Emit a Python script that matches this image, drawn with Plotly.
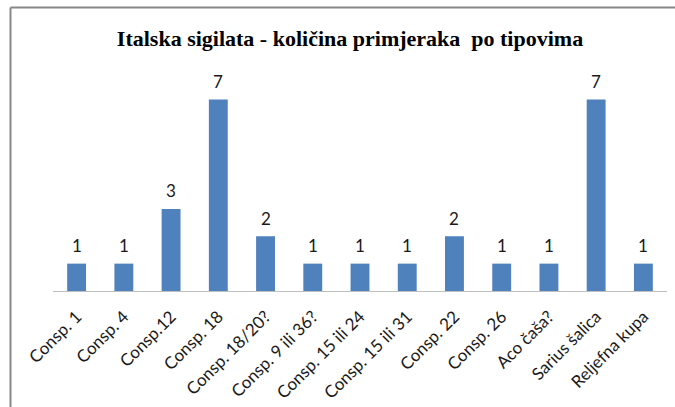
import plotly.graph_objects as go

categories = ["Consp. 1", "Consp. 4", "Consp.12", "Consp. 18", "Consp. 18/20?",
              "Consp. 9 ili 36?", "Consp. 15 ili 24", "Consp. 15 ili 31", "Consp. 22",
              "Consp. 26", "Aco čaša?", "Sarius šalica", "Reljefna kupa"]
values = [1, 1, 3, 7, 2, 1, 1, 1, 2, 1, 1, 7, 1]
title_text = "Italska sigilata - količina primjeraka  po tipovima"

W, H = 675, 407
L, R, T, B = 53, 8, 72, 116

fig = go.Figure(go.Bar(
    x=categories, y=values,
    marker=dict(color="#4F81BD", line=dict(width=0)),
    hoverinfo="x+y",
))

for c, v in zip(categories, values):
    fig.add_annotation(x=c, y=v, text=str(v), showarrow=False, yshift=18,
                       font=dict(family="Lato", size=17, color="#1a1a1a"))

pw = W - L - R
ph = H - T - B
def px_x(p):
    return (p - L) / pw
def px_y(p):
    return (H - B - p) / ph

fig.add_shape(type="line", xref="paper", yref="paper",
              x0=px_x(10.5), x1=px_x(10.5), y0=px_y(7.5), y1=px_y(420),
              line=dict(color="#878787", width=2))
fig.add_shape(type="line", xref="paper", yref="paper",
              x0=px_x(10.5), x1=px_x(680), y0=px_y(7.5), y1=px_y(7.5),
              line=dict(color="#878787", width=2))

fig.update_layout(
    width=W, height=H,
    margin=dict(l=L, r=R, t=T, b=B, autoexpand=False),
    paper_bgcolor="white", plot_bgcolor="white",
    bargap=0.6,
    showlegend=False,
    title=dict(text="<b>" + title_text + "</b>", xref="container", yref="container",
               x=350 / W, y=1 - 38 / H, xanchor="center", yanchor="middle",
               font=dict(family="Times New Roman", size=22, color="#000000")),
    xaxis=dict(showline=True, linecolor="#BFBFBF", linewidth=1, tickangle=-45,
               ticks="", showgrid=False, zeroline=False, automargin=False,
               ticklabelstandoff=8,
               tickfont=dict(family="Lato", size=17, color="#1a1a1a")),
    yaxis=dict(range=[0, 8], visible=False, showgrid=False, zeroline=False, automargin=False),
)

fig.write_html("out.html", config={"displayModeBar": False},
               post_script="document.body.style.margin='0';document.body.style.overflow='hidden';")
